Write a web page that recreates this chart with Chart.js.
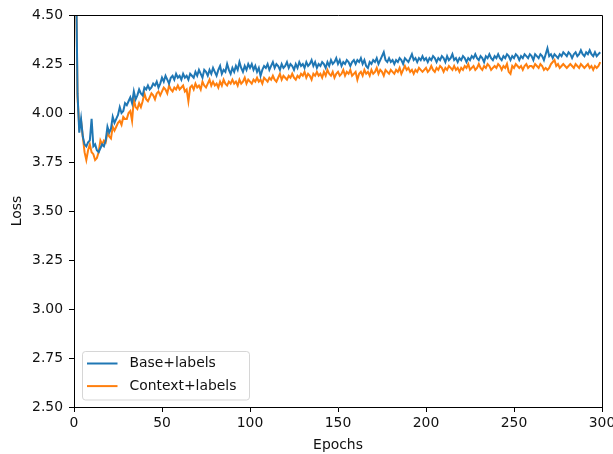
<!DOCTYPE html>
<html>
<head>
<meta charset="utf-8">
<script src="https://cdn.jsdelivr.net/npm/chart.js@4/dist/chart.umd.min.js"></script>
<style>
  html, body { margin: 0; padding: 0; background: #fff; }
  #wrap { width: 613px; height: 454px; }
</style>
</head>
<body>
<div id="wrap"><canvas id="c" width="613" height="454"></canvas></div>
<script>
// Per-epoch loss for each run (epoch index = position in the array)
const baseLabels = [
  6.20, 4.85, 4.10, 3.90, 3.97, 3.88, 3.84, 3.83, 3.85, 3.86,
  3.97, 3.83, 3.84, 3.81, 3.80, 3.82, 3.84, 3.83, 3.86, 3.93,
  3.90, 3.92, 3.98, 3.95, 3.97, 3.99, 4.03, 4.00, 4.01, 4.05,
  4.04, 4.06, 4.08, 4.05, 4.11, 4.07, 4.09, 4.12, 4.10, 4.09,
  4.13, 4.12, 4.14, 4.12, 4.13, 4.15, 4.14, 4.16, 4.13, 4.15,
  4.18, 4.16, 4.19, 4.17, 4.15, 4.18, 4.19, 4.17, 4.20, 4.18,
  4.19, 4.17, 4.20, 4.18, 4.19, 4.17, 4.20, 4.19, 4.18, 4.21,
  4.19, 4.22, 4.20, 4.18, 4.22, 4.21, 4.19, 4.22, 4.20, 4.23,
  4.21, 4.19, 4.22, 4.24, 4.20, 4.22, 4.21, 4.25, 4.22, 4.20,
  4.23, 4.21, 4.24, 4.22, 4.26, 4.23, 4.21, 4.24, 4.22, 4.25,
  4.23, 4.25, 4.22, 4.24, 4.21, 4.23, 4.19, 4.22, 4.24, 4.23,
  4.25, 4.22, 4.24, 4.26, 4.23, 4.25, 4.24, 4.22, 4.25, 4.23,
  4.24, 4.26, 4.23, 4.25, 4.24, 4.22, 4.25, 4.23, 4.26, 4.24,
  4.25, 4.23, 4.26, 4.24, 4.25, 4.27, 4.24, 4.26, 4.23, 4.25,
  4.24, 4.26, 4.25, 4.23, 4.26, 4.24, 4.27, 4.25, 4.26, 4.28,
  4.25, 4.27, 4.24, 4.26, 4.25, 4.27, 4.26, 4.24, 4.26, 4.27,
  4.25, 4.27, 4.26, 4.28, 4.25, 4.27, 4.24, 4.23, 4.26, 4.25,
  4.27, 4.26, 4.28, 4.25, 4.27, 4.29, 4.31, 4.27, 4.26, 4.28,
  4.26, 4.27, 4.25, 4.27, 4.26, 4.28, 4.27, 4.25, 4.28, 4.27,
  4.26, 4.28, 4.30, 4.27, 4.28, 4.26, 4.28, 4.27, 4.29, 4.27,
  4.28, 4.26, 4.28, 4.27, 4.29, 4.28, 4.26, 4.28, 4.27, 4.29,
  4.28, 4.26, 4.29, 4.27, 4.28, 4.30, 4.27, 4.28, 4.26, 4.28,
  4.27, 4.29, 4.28, 4.26, 4.28, 4.27, 4.29, 4.28, 4.30, 4.28,
  4.27, 4.29, 4.28, 4.26, 4.29, 4.28, 4.30, 4.28, 4.27, 4.29,
  4.28, 4.30, 4.28, 4.27, 4.29, 4.28, 4.30, 4.29, 4.27, 4.29,
  4.28, 4.30, 4.29, 4.27, 4.29, 4.28, 4.30, 4.29, 4.28, 4.30,
  4.29, 4.27, 4.30, 4.29, 4.28, 4.30, 4.29, 4.27, 4.30, 4.33,
  4.29, 4.30, 4.28, 4.30, 4.29, 4.28, 4.30, 4.29, 4.31, 4.30,
  4.29, 4.31, 4.30, 4.28, 4.30, 4.31, 4.29, 4.30, 4.32, 4.30,
  4.29, 4.31, 4.30, 4.32, 4.30, 4.29, 4.31, 4.29, 4.30, 4.31
];

const contextLabels = [
  6.00, 4.80, 4.08, 3.93, 3.96, 3.88, 3.80, 3.76, 3.81, 3.84,
  3.80, 3.79, 3.76, 3.77, 3.80, 3.86, 3.84, 3.86, 3.85, 3.90,
  3.88, 3.87, 3.93, 3.91, 3.93, 3.95, 3.96, 3.94, 3.98, 3.97,
  3.97, 4.00, 4.01, 3.96, 4.07, 4.03, 4.02, 4.05, 4.03, 4.06,
  4.10, 4.07, 4.06, 4.08, 4.10, 4.09, 4.07, 4.10, 4.11, 4.09,
  4.11, 4.13, 4.12, 4.10, 4.14, 4.12, 4.11, 4.13, 4.12, 4.14,
  4.12, 4.13, 4.14, 4.11, 4.12, 4.06, 4.13, 4.14, 4.12, 4.15,
  4.13, 4.14, 4.12, 4.16, 4.14, 4.13, 4.15, 4.17, 4.14, 4.16,
  4.14, 4.15, 4.13, 4.16, 4.14, 4.17, 4.15, 4.14, 4.16, 4.15,
  4.17, 4.15, 4.16, 4.14, 4.17, 4.15, 4.16, 4.18, 4.15, 4.17,
  4.16, 4.15, 4.17, 4.16, 4.18, 4.16, 4.17, 4.15, 4.18, 4.17,
  4.16, 4.18, 4.17, 4.19, 4.17, 4.16, 4.18, 4.20, 4.17, 4.19,
  4.18, 4.17, 4.19, 4.18, 4.20, 4.18, 4.17, 4.19, 4.18, 4.20,
  4.19, 4.21, 4.18, 4.20, 4.19, 4.17, 4.20, 4.19, 4.21, 4.19,
  4.20, 4.18, 4.21, 4.19, 4.22, 4.20, 4.19, 4.21, 4.18, 4.20,
  4.21, 4.19, 4.20, 4.22, 4.19, 4.21, 4.20, 4.22, 4.19, 4.20,
  4.21, 4.17, 4.20, 4.21, 4.19, 4.22, 4.20, 4.21, 4.19, 4.22,
  4.20, 4.21, 4.23, 4.20, 4.22, 4.21, 4.19, 4.22, 4.21, 4.20,
  4.22, 4.21, 4.20, 4.22, 4.21, 4.23, 4.20, 4.22, 4.24, 4.22,
  4.23, 4.21, 4.22, 4.20, 4.22, 4.21, 4.23, 4.22, 4.21, 4.22,
  4.23, 4.21, 4.22, 4.24, 4.22, 4.21, 4.23, 4.22, 4.24, 4.23,
  4.21, 4.23, 4.22, 4.24, 4.23, 4.22, 4.24, 4.22, 4.23, 4.21,
  4.23, 4.22, 4.24, 4.23, 4.25, 4.22, 4.23, 4.24, 4.22, 4.23,
  4.25, 4.23, 4.22, 4.24, 4.23, 4.25, 4.24, 4.22, 4.23, 4.24,
  4.23, 4.25, 4.24, 4.22, 4.24, 4.23, 4.25, 4.21, 4.20, 4.24,
  4.23, 4.25, 4.24, 4.23, 4.24, 4.22, 4.24, 4.25, 4.23, 4.24,
  4.24, 4.23, 4.25, 4.24, 4.23, 4.25, 4.24, 4.22, 4.23, 4.22,
  4.23, 4.25, 4.26, 4.27, 4.24, 4.25, 4.23, 4.24, 4.25, 4.24,
  4.23, 4.24, 4.25, 4.24, 4.23, 4.25, 4.24, 4.23, 4.25, 4.24,
  4.23, 4.24, 4.25, 4.23, 4.24, 4.22, 4.24, 4.23, 4.24, 4.26
];

const seriesNames = ['Base+labels', 'Context+labels'];
const seriesColors = ['#1f77b4', '#ff7f0e'];
const xTicks = [0, 50, 100, 150, 200, 250, 300];
const yTicks = [2.50, 2.75, 3.00, 3.25, 3.50, 3.75, 4.00, 4.25, 4.50];

const FONT = 'DejaVu Sans';
const FS = 13.9;
const TXT = '#111';

const toPoints = arr => arr.map((v, i) => ({ x: i, y: v }));

// Top and right spines around the plotting area
const framePlugin = {
  id: 'frame',
  afterDraw(chart) {
    const { ctx, chartArea: a } = chart;
    ctx.save();
    ctx.strokeStyle = '#000';
    ctx.lineWidth = 1;
    ctx.beginPath();
    ctx.moveTo(a.left, a.top + 0.5);
    ctx.lineTo(a.right + 0.5, a.top + 0.5);
    ctx.lineTo(a.right + 0.5, a.bottom);
    ctx.stroke();
    ctx.restore();
  }
};

// Legend box in the lower-left corner of the axes
const insetLegend = {
  id: 'insetLegend',
  afterDatasetsDraw(chart) {
    const { ctx, chartArea: a } = chart;
    const ds = chart.data.datasets;
    const x0 = a.left + 8.5, w = 167, h = 48.5;
    const y0 = a.bottom - 7 - h;
    ctx.save();
    ctx.beginPath();
    ctx.roundRect(x0, y0, w, h, 3);
    ctx.fillStyle = 'rgba(255,255,255,0.8)';
    ctx.fill();
    ctx.strokeStyle = 'rgba(204,204,204,0.8)';
    ctx.lineWidth = 1;
    ctx.stroke();
    ctx.font = FS + 'px "' + FONT + '"';
    ctx.textBaseline = 'middle';
    ctx.fillStyle = TXT;
    ds.forEach((d, i) => {
      const yy = y0 + 12 + i * 22.6;
      ctx.beginPath();
      ctx.strokeStyle = d.borderColor;
      ctx.lineWidth = 2;
      ctx.moveTo(x0 + 4.5, yy);
      ctx.lineTo(x0 + 35, yy);
      ctx.stroke();
      ctx.fillText(d.label, x0 + 47, yy);
    });
    ctx.restore();
  }
};

new Chart(document.getElementById('c'), {
  type: 'line',
  data: {
    datasets: [
      { label: seriesNames[0], data: toPoints(baseLabels), borderColor: seriesColors[0], backgroundColor: seriesColors[0] },
      { label: seriesNames[1], data: toPoints(contextLabels), borderColor: seriesColors[1], backgroundColor: seriesColors[1] }
    ]
  },
  options: {
    responsive: false,
    animation: false,
    devicePixelRatio: 1,
    layout: { padding: { top: 15, right: 11, left: 0, bottom: 0 } },
    elements: {
      line: { borderWidth: 2, tension: 0 },
      point: { radius: 0 }
    },
    plugins: {
      legend: { display: false },
      tooltip: { enabled: false }
    },
    scales: {
      x: {
        type: 'linear',
        min: 0, max: 300,
        afterBuildTicks: s => { s.ticks = xTicks.map(v => ({ value: v })); },
        afterFit: s => { s.height = 47; s.paddingRight = 0; s.paddingLeft = 0; },
        ticks: { color: TXT, font: { family: FONT, size: FS }, padding: 3, maxRotation: 0, callback: v => String(v) },
        grid: { display: true, drawOnChartArea: false, drawTicks: true, tickLength: 5, color: '#000', lineWidth: 1 },
        border: { display: true, color: '#000', width: 1 },
        title: { display: true, text: 'Epochs', color: TXT, font: { family: FONT, size: FS }, padding: { top: 0, bottom: 0.3 } }
      },
      y: {
        type: 'linear',
        min: 2.5, max: 4.5,
        afterBuildTicks: s => { s.ticks = yTicks.map(v => ({ value: v })); },
        afterFit: s => { s.width = 74; s.paddingTop = 0; s.paddingBottom = 0; },
        ticks: { color: TXT, font: { family: FONT, size: FS }, padding: 6, callback: v => Number(v).toFixed(2) },
        grid: { display: true, drawOnChartArea: false, drawTicks: true, tickLength: 5, color: '#000', lineWidth: 1 },
        border: { display: true, color: '#000', width: 1 },
        title: { display: true, text: 'Loss', color: TXT, font: { family: FONT, size: FS }, padding: { top: 8.7, bottom: 0 } }
      }
    }
  },
  plugins: [framePlugin, insetLegend]
});
</script>
</body>
</html>
